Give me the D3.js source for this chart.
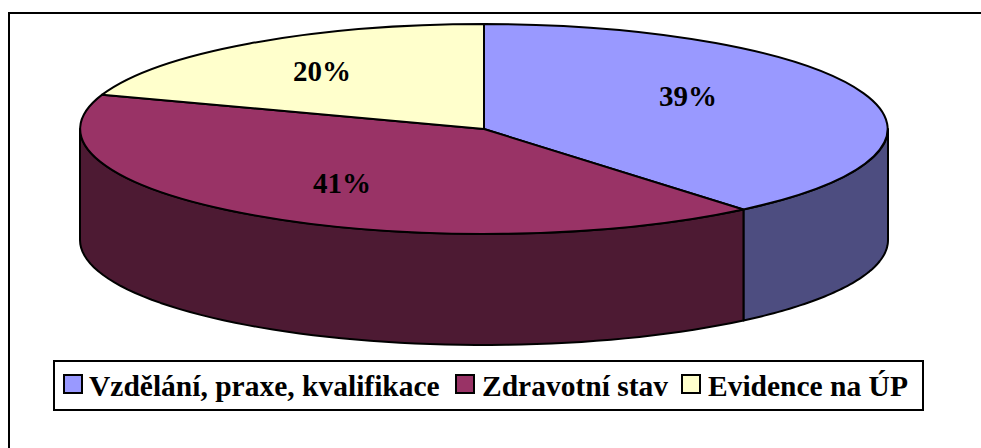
<!DOCTYPE html>
<html>
<head>
<meta charset="utf-8">
<script src="https://cdn.jsdelivr.net/npm/d3@7"></script>
<style>
  html, body { margin: 0; padding: 0; background: #fff; }
  svg { display: block; }
  text { font-family: "Liberation Serif", serif; font-weight: bold; fill: #000; }
</style>
</head>
<body>
<div id="chart"></div>
<script>
var categories = ['Vzdělání, praxe, kvalifikace', 'Zdravotní stav', 'Evidence na ÚP'];
var values = [38.9, 41.4, 19.7];
var topColors = ['#9999ff', '#993366', '#ffffcc'];
var sideColors = ['#4d4d80', '#4d1a33', '#808066'];

var width = 981, height = 448;
var cx = 484, cy = 129, rx = 404, ry = 105, depth = 111;

var svg = d3.select('#chart').append('svg')
  .attr('width', width)
  .attr('height', height);

// chart frame, only top and left show, the rest is cut off by the picture edge
svg.append('rect')
  .attr('x', 9).attr('y', 13)
  .attr('width', 1000).attr('height', 500)
  .attr('fill', '#fff').attr('stroke', '#000').attr('stroke-width', 2);

var pie = d3.pie().sort(null).value(function(d) { return d; });
var slices = pie(values);

// unit circle squashed to an ellipse
var arc = d3.arc().innerRadius(0).outerRadius(1);

function ex(a) { return cx + rx * Math.sin(a); }
function ey(a) { return cy - ry * Math.cos(a); }

// side wall of a slice, only the part facing the viewer (90deg to 270deg)
function wallPath(d) {
  var a0 = Math.max(d.startAngle, Math.PI / 2);
  var a1 = Math.min(d.endAngle, Math.PI * 1.5);
  if (a0 >= a1) return null;
  var top = d3.range(0, 61).map(function(i) {
    var a = a0 + (a1 - a0) * i / 60;
    return [ex(a), ey(a)];
  });
  var bottom = top.slice().reverse().map(function(p) { return [p[0], p[1] + depth]; });
  return d3.line()(top.concat(bottom)) + 'Z';
}

svg.append('g').selectAll('path')
  .data(slices.filter(function(d) { return wallPath(d) !== null; }))
  .enter().append('path')
  .attr('d', wallPath)
  .attr('fill', function(d) { return sideColors[d.index]; })
  .attr('stroke', '#000')
  .attr('stroke-width', 2)
  .attr('stroke-linejoin', 'round');

svg.append('g')
  .attr('transform', 'translate(' + cx + ',' + cy + ') scale(' + rx + ',' + ry + ')')
  .selectAll('path')
  .data(slices)
  .enter().append('path')
  .attr('d', arc)
  .attr('fill', function(d) { return topColors[d.index]; })
  .attr('stroke', '#000')
  .attr('stroke-width', 2)
  .attr('stroke-linejoin', 'round')
  .attr('vector-effect', 'non-scaling-stroke');

// percent labels
var labelPos = [[688, 96], [342, 183], [322, 71]];
svg.append('g').selectAll('text')
  .data(slices)
  .enter().append('text')
  .attr('x', function(d) { return labelPos[d.index][0]; })
  .attr('y', function(d) { return labelPos[d.index][1]; })
  .attr('dy', '0.35em')
  .attr('text-anchor', 'middle')
  .style('font-size', '29px')
  .text(function(d) { return Math.round(d.value) + '%'; });

// legend
svg.append('rect')
  .attr('x', 54).attr('y', 361)
  .attr('width', 869).attr('height', 49)
  .attr('fill', '#fff').attr('stroke', '#000').attr('stroke-width', 2);

var swatchX = [64, 456, 682];
var labelX = [89, 482, 708];
var legend = svg.append('g').selectAll('g')
  .data(categories)
  .enter().append('g');

legend.append('rect')
  .attr('x', function(d, i) { return swatchX[i]; })
  .attr('y', 375)
  .attr('width', 18).attr('height', 18)
  .attr('fill', function(d, i) { return topColors[i]; })
  .attr('stroke', '#000').attr('stroke-width', 2);

legend.append('text')
  .attr('x', function(d, i) { return labelX[i]; })
  .attr('y', 396)
  .style('font-size', '29.5px')
  .text(function(d) { return d; });
</script>
</body>
</html>
